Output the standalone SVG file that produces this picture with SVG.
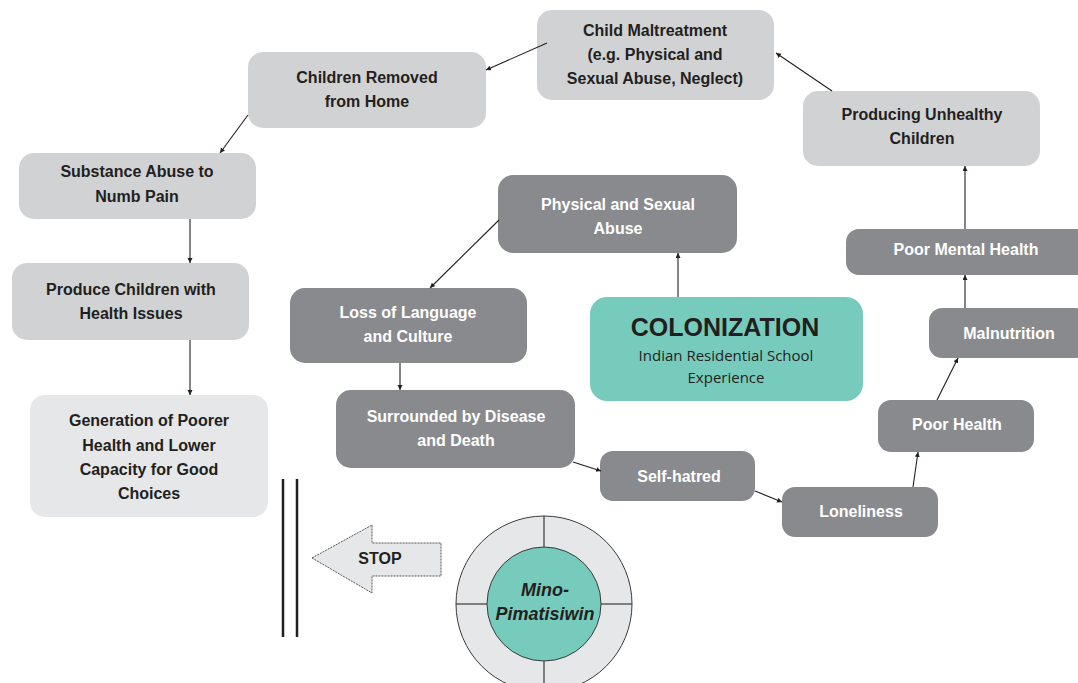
<svg xmlns="http://www.w3.org/2000/svg" width="1078" height="683" viewBox="0 0 1078 683">
<style>
.light{fill:#d1d2d4}
.lighter{fill:#e6e7e8}
.dark{fill:#898a8e}
.teal{fill:#77cbbd}
.t{font-family:"Liberation Sans",Arial,sans-serif;font-weight:bold;font-size:16px;text-anchor:middle}
.td{fill:#231f20}
.tw{fill:#ffffff}
.conn line{stroke:#231f20;stroke-width:1.1;marker-end:url(#ah)}
.mp{font-family:"Liberation Sans",Arial,sans-serif;font-weight:bold;font-style:italic;font-size:18px;text-anchor:middle;fill:#231f20}
</style>
<defs>
<marker id="ah" markerUnits="userSpaceOnUse" markerWidth="6" markerHeight="6" refX="5" refY="2.5" orient="auto">
<path d="M0,0 L5,2.5 L0,5 z" fill="#231f20"/>
</marker>
</defs>
<rect width="1078" height="683" fill="#ffffff"/>

<g id="child-maltreatment">
<rect class="light" x="537" y="10" width="237" height="90" rx="15"/>
<text class="t td" x="655" y="36">Child Maltreatment</text>
<text class="t td" x="655" y="60">(e.g. Physical and</text>
<text class="t td" x="655" y="84">Sexual Abuse, Neglect)</text>
</g>
<g id="children-removed">
<rect class="light" x="248" y="52" width="238" height="76" rx="15"/>
<text class="t td" x="367" y="83">Children Removed</text>
<text class="t td" x="367" y="107">from Home</text>
</g>
<g id="substance-abuse">
<rect class="light" x="19" y="153" width="237" height="66" rx="15"/>
<text class="t td" x="137" y="177">Substance Abuse to</text>
<text class="t td" x="137" y="202">Numb Pain</text>
</g>
<g id="produce-children">
<rect class="light" x="12" y="263" width="237" height="77" rx="15"/>
<text class="t td" x="131" y="295">Produce Children with</text>
<text class="t td" x="131" y="319">Health Issues</text>
</g>
<g id="generation">
<rect class="lighter" x="30" y="395" width="238" height="122" rx="15"/>
<text class="t td" x="149" y="426">Generation of Poorer</text>
<text class="t td" x="149" y="451">Health and Lower</text>
<text class="t td" x="149" y="475">Capacity for Good</text>
<text class="t td" x="149" y="499">Choices</text>
</g>
<g id="producing-unhealthy">
<rect class="light" x="803" y="91" width="237" height="75" rx="15"/>
<text class="t td" x="922" y="120">Producing Unhealthy</text>
<text class="t td" x="922" y="144">Children</text>
</g>
<g id="physical-sexual-abuse">
<rect class="dark" x="498" y="175" width="239" height="78" rx="15"/>
<text class="t tw" x="618" y="210">Physical and Sexual</text>
<text class="t tw" x="618" y="234">Abuse</text>
</g>
<g id="loss-language">
<rect class="dark" x="290" y="288" width="237" height="75" rx="15"/>
<text class="t tw" x="408" y="318">Loss of Language</text>
<text class="t tw" x="408" y="342">and Culture</text>
</g>
<g id="colonization">
<rect class="teal" x="590" y="297" width="273" height="104" rx="17"/>
<text x="725" y="336" style="font-family:'Liberation Sans',Arial,sans-serif;font-weight:bold;font-size:25px;text-anchor:middle;fill:#231f20">COLONIZATION</text>
<text x="726" y="361" style="font-family:'Open Sans','Liberation Sans',sans-serif;font-size:15px;text-anchor:middle;fill:#231f20">Indian Residential School</text>
<text x="726" y="383" style="font-family:'Open Sans','Liberation Sans',sans-serif;font-size:15px;text-anchor:middle;fill:#231f20">Experience</text>
</g>
<g id="surrounded">
<rect class="dark" x="336" y="390" width="239" height="78" rx="15"/>
<text class="t tw" x="456" y="422">Surrounded by Disease</text>
<text class="t tw" x="456" y="446">and Death</text>
</g>
<g id="self-hatred">
<rect class="dark" x="600" y="451" width="155" height="50" rx="13"/>
<text class="t tw" x="679" y="482">Self-hatred</text>
</g>
<g id="loneliness">
<rect class="dark" x="782" y="487" width="156" height="50" rx="13"/>
<text class="t tw" x="861" y="517">Loneliness</text>
</g>
<g id="poor-health">
<rect class="dark" x="878" y="400" width="156" height="52" rx="13"/>
<text class="t tw" x="957" y="430">Poor Health</text>
</g>
<g id="malnutrition">
<rect class="dark" x="929" y="308" width="160" height="50" rx="13"/>
<text class="t tw" x="1009" y="339">Malnutrition</text>
</g>
<g id="poor-mental-health">
<rect class="dark" x="846" y="229" width="245" height="46" rx="13"/>
<text class="t tw" x="966" y="255">Poor Mental Health</text>
</g>

<g id="connectors" class="conn">
<line x1="547" y1="43" x2="486" y2="70"/>
<line x1="832" y1="91" x2="776" y2="53"/>
<line x1="248" y1="115" x2="220" y2="153"/>
<line x1="190" y1="219" x2="190" y2="263"/>
<line x1="190" y1="340" x2="190" y2="395"/>
<line x1="499" y1="220" x2="430" y2="288"/>
<line x1="678" y1="297" x2="678" y2="253"/>
<line x1="400" y1="363" x2="400" y2="390"/>
<line x1="573" y1="462" x2="601" y2="471"/>
<line x1="755" y1="491" x2="782" y2="502"/>
<line x1="913" y1="487" x2="918" y2="452"/>
<line x1="937" y1="400" x2="958" y2="358"/>
<line x1="965" y1="308" x2="965" y2="275"/>
<line x1="965" y1="229" x2="965" y2="166"/>
</g>

<g id="barrier">
<line x1="283" y1="479" x2="283" y2="637" stroke="#231f20" stroke-width="2.5"/>
<line x1="297" y1="479" x2="297" y2="637" stroke="#231f20" stroke-width="2.5"/>
</g>
<g id="stop-arrow">
<polygon points="312,558 372,525 372,543 441,543 441,576 372,576 372,593" fill="#e6e7e8" stroke="#555" stroke-width="1" stroke-dasharray="2,1"/>
<text class="t td" x="380" y="564">STOP</text>
</g>
<g id="mino-pimatisiwin">
<circle cx="544" cy="604" r="88" fill="#e6e7e8" stroke="#3a3a3a" stroke-width="1"/>
<line x1="544" y1="516" x2="544" y2="547" stroke="#3a3a3a" stroke-width="1.2"/>
<line x1="544" y1="661" x2="544" y2="692" stroke="#3a3a3a" stroke-width="1.2"/>
<line x1="456" y1="604" x2="487" y2="604" stroke="#3a3a3a" stroke-width="1.2"/>
<line x1="601" y1="604" x2="632" y2="604" stroke="#3a3a3a" stroke-width="1.2"/>
<circle cx="544" cy="604" r="57" fill="#77cbbd" stroke="#3a3a3a" stroke-width="1"/>
<text class="mp" x="545" y="596">Mino-</text>
<text class="mp" x="545" y="620">Pimatisiwin</text>
</g>
</svg>
